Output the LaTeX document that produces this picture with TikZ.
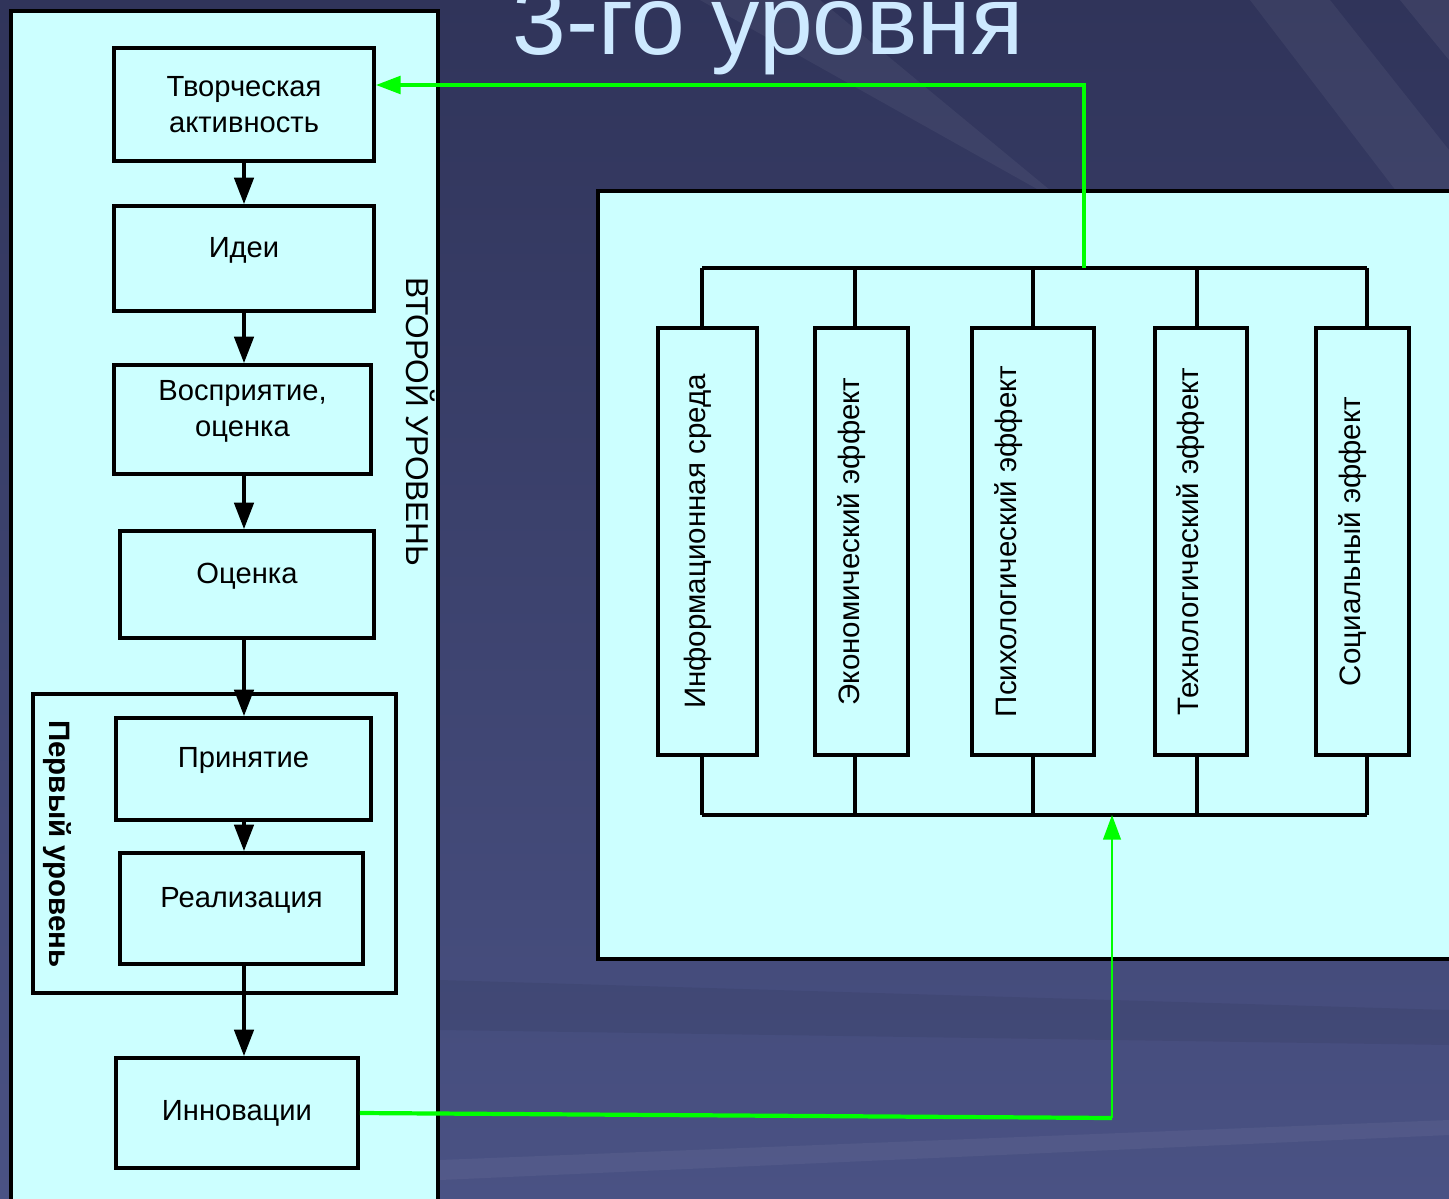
\documentclass[tikz,border=0pt]{standalone}
\usepackage{fontspec}
\setmainfont{Liberation Sans}
\usetikzlibrary{arrows.meta}

\definecolor{paleCyan}{HTML}{CCFFFF}
\definecolor{signalGreen}{HTML}{00FF00}
\definecolor{bgTop}{HTML}{30345A}
\definecolor{bgBot}{HTML}{4A5284}
\definecolor{titleBlue}{HTML}{CDE9FF}

\tikzset{
	panel/.style={draw=black, line width=2.5pt, fill=paleCyan},
	blk/.style={draw=black, line width=2.2pt, fill=paleCyan, align=center, inner sep=0pt,
		font=\fontsize{16.6}{20.5}\selectfont},
	lifted/.style={text depth=13pt},
	vblk/.style={blk, rotate=90, minimum width=8.54cm, font=\fontsize{16.8}{20}\selectfont, text depth=15pt},
	flow/.style={line width=2pt, -{Triangle[width=11pt,length=15pt]}},
	bus/.style={line width=1.8pt},
	feed/.style={draw=signalGreen, line width=2pt, -{Triangle[width=10pt,length=14pt]}},
}

\begin{document}
\begin{tikzpicture}[x=0.02cm, y=-0.02cm]

	\useasboundingbox (0,0) rectangle (1449,1199);
	\clip (0,0) rectangle (1449,1199);

	%slide background with a few light streaks
	\shade[top color=bgTop, bottom color=bgBot] (0,0) rectangle (1449,1199);
	\fill[white, opacity=0.05] (700,0) -- (820,0) -- (1449,520) -- (1449,420) -- cycle;
	\fill[white, opacity=0.05] (1250,0) -- (1330,0) -- (1449,150) -- (1449,260) -- cycle;
	\fill[white, opacity=0.06] (1400,0) -- (1449,0) -- (1449,60) -- cycle;
	\fill[black, opacity=0.06] (440,980) -- (1449,1010) -- (1449,1045) -- (440,1030) -- cycle;
	\fill[white, opacity=0.05] (440,1160) -- (1449,1120) -- (1449,1135) -- (440,1180) -- cycle;

	%title, cut off by the top edge
	\node[anchor=base, text=titleBlue, font=\fontsize{55}{66}\selectfont, yscale=1.02]
		(title) at (768,55) {3-го уровня};

	%second level panel
	\draw[panel] (11,11) rectangle (438,1230);
	\node[rotate=-90, font=\fontsize{18}{22}\selectfont] (lvl2) at (421,422) {ВТОРОЙ УРОВЕНЬ};

	%chain of stages
	\node[blk, minimum width=5.2cm, minimum height=2.26cm] (tvor) at (244,104.5) {Творческая\\активность};
	\node[blk, lifted, minimum width=5.2cm, minimum height=2.1cm] (idei) at (244,258.5) {Идеи};
	\node[blk, lifted, minimum width=5.14cm, minimum height=2.18cm] (vospr) at (242.5,419.5) {Восприятие,\\оценка};
	\node[blk, lifted, minimum width=5.08cm, minimum height=2.14cm] (ocen) at (247,584.5) {Оценка};

	%first level frame
	\draw[line width=2.2pt] (33,694) rectangle (396,993);
	\node[rotate=-90, font=\bfseries\fontsize{16.8}{20}\selectfont] (lvl1) at (57,844) {Первый уровень};
	\node[blk, lifted, minimum width=5.1cm, minimum height=2.04cm] (prin) at (243.5,769) {Принятие};
	\node[blk, lifted, minimum width=4.86cm, minimum height=2.22cm] (real) at (241.5,908.5) {Реализация};
	\node[blk, minimum width=4.84cm, minimum height=2.2cm] (innov) at (237,1113) {Инновации};

	\draw[flow] (tvor.south) -- (tvor.south |- idei.north);
	\draw[flow] (idei.south) -- (idei.south |- vospr.north);
	\draw[flow] (vospr.south -| idei.south) -- (idei.south |- ocen.north);
	\draw[flow] (ocen.south -| idei.south) -- (idei.south |- prin.north);
	\draw[flow] (prin.south -| idei.south) -- (idei.south |- real.north);
	\draw[flow] (real.south -| idei.south) -- (idei.south |- innov.north);

	%third level panel
	\draw[panel] (598,191) rectangle (1470,959);
	\node[vblk, minimum height=1.98cm] (inf) at (707.5,541.5) {Информационная среда};
	\node[vblk, minimum height=1.86cm] (eko) at (861.5,541.5) {Экономический эффект};
	\node[vblk, minimum height=2.44cm, text depth=31pt] (psi) at (1033,541.5) {Психологический эффект};
	\node[vblk, minimum height=1.84cm] (teh) at (1201,541.5) {Технологический эффект};
	\node[vblk, minimum height=1.86cm] (soc) at (1362.5,541.5) {Социальный эффект};

	%buses above and below the effects
	\coordinate (topL) at (702,268);
	\coordinate (topR) at (1367,268);
	\coordinate (botL) at (702,815);
	\coordinate (botR) at (1367,815);
	\draw[bus] (topL) -- (topR);
	\draw[bus] (botL) -- (botR);
	\foreach \n/\x in {inf/702, eko/855, psi/1033, teh/1197, soc/1367}
	{
		\draw[bus] (\n.east -| \x,0) -- (\x,268);
		\draw[bus] (\n.west -| \x,0) -- (\x,815);
	}

	%feedback links
	\coordinate (gtop) at (1084,268);
	\coordinate (gcorner) at (1084,85);
	\draw[feed] (gtop) -- (gcorner) -- (tvor.east |- gcorner);
	\coordinate (gbend) at (1112,1118);
	\draw[draw=signalGreen, line width=2.4pt] (innov.east) -- (gbend);
	\draw[feed, line width=1.4pt] (gbend) -- (gbend |- botL);

\end{tikzpicture}
\end{document}
